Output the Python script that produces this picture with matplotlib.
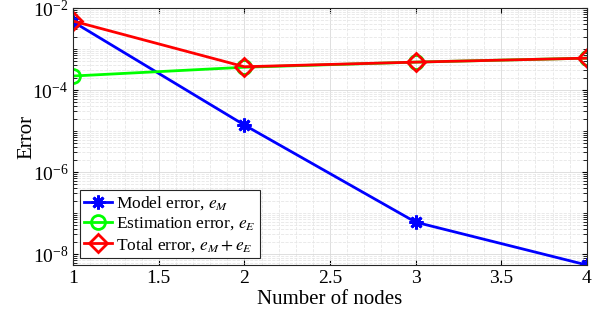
import matplotlib
matplotlib.use("Agg")
import matplotlib.pyplot as plt
from matplotlib.ticker import LogLocator, NullFormatter, FixedLocator, FixedFormatter

plt.rcParams['font.family'] = ['Liberation Serif', 'DejaVu Serif']
plt.rcParams['mathtext.fontset'] = 'stix'

nodes = [1, 2, 3, 4]
model_err = [4.6e-3, 1.4e-5, 6.0e-8, 5.4e-9]
est_err = [2.2e-4, 3.6e-4, 4.8e-4, 6.0e-4]
total_err = [4.8e-3, 3.7e-4, 4.8e-4, 6.0e-4]

ytick_vals = [1e-8, 1e-6, 1e-4, 1e-2]
ytick_labels = [r'$\mathregular{10^{-8}}$', r'$\mathregular{10^{-6}}$',
                r'$\mathregular{10^{-4}}$', r'$\mathregular{10^{-2}}$']

fig = plt.figure(figsize=(6, 3.22), dpi=100)
ax = fig.add_axes([0.122, 0.177, 0.856, 0.798])

ax.semilogy(nodes, model_err, '-', marker=(8, 2, 0), color='blue', lw=2,
            ms=10, mew=2, label=r'Model error, $e_M$')
ax.semilogy(nodes, est_err, '-o', color='#00ff00', lw=2, ms=10, mew=2,
            mfc='none', label=r'Estimation error, $e_E$')
ax.semilogy(nodes, total_err, '-D', color='red', lw=2, ms=9, mew=2,
            mfc='none', label=r'Total error, $e_M + e_E$')

ax.set_xlim(1, 4)
ax.set_ylim(5.4e-9, 1e-2)
ax.set_xticks([1, 1.5, 2, 2.5, 3, 3.5, 4])
ax.set_xticklabels(['1', '1.5', '2', '2.5', '3', '3.5', '4'])
ax.yaxis.set_major_locator(FixedLocator(ytick_vals))
ax.yaxis.set_major_formatter(FixedFormatter(ytick_labels))
ax.yaxis.set_minor_locator(LogLocator(base=10, subs=range(1, 10), numticks=50))
ax.yaxis.set_minor_formatter(NullFormatter())
ax.xaxis.set_minor_locator(plt.MultipleLocator(0.1))
ax.xaxis.set_minor_formatter(NullFormatter())

ax.grid(True, which='major', color='#d9d9d9', ls='-', lw=0.6)
ax.grid(True, which='minor', color='#e6e6e6', ls='--', lw=0.6)
ax.tick_params(which='both', direction='in', top=True, right=True, labelsize=14)
ax.tick_params(which='minor', length=0, axis='x')
ax.tick_params(which='minor', length=3, axis='y')
for s in ax.spines.values():
    s.set_color('#262626')

ax.set_xlabel('Number of nodes', fontsize=15, labelpad=2)
ax.set_ylabel('Error', fontsize=15, labelpad=-3)

leg = ax.legend(loc='lower left', fontsize=12.5, fancybox=False, framealpha=1,
                edgecolor='#262626', handlelength=1.6, handletextpad=0.2,
                borderpad=0.25, labelspacing=0.2, borderaxespad=0.4)
leg.get_frame().set_linewidth(0.8)

fig.savefig('out.png', dpi=100)
